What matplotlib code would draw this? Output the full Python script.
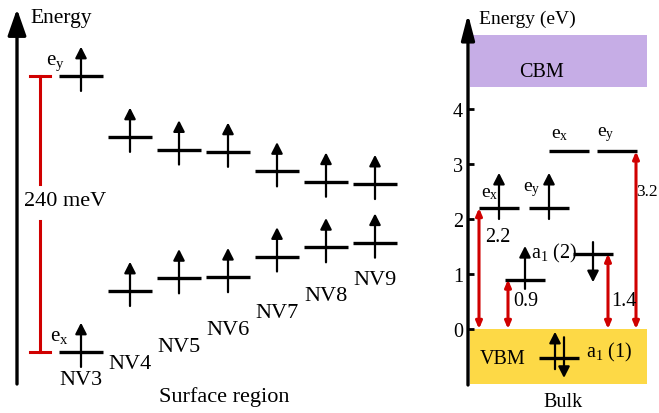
import matplotlib
matplotlib.use('Agg')
import matplotlib.pyplot as plt

plt.rcParams['font.family'] = ['Liberation Serif', 'DejaVu Serif']
plt.rcParams['mathtext.fontset'] = 'custom'
plt.rcParams['mathtext.rm'] = 'Liberation Serif'
plt.rcParams['mathtext.it'] = 'Liberation Serif:italic'

# surface region: NV3 ... NV9, level energies in meV (relative to NV3 e_x)
nv_names = ['NV3', 'NV4', 'NV5', 'NV6', 'NV7', 'NV8', 'NV9']
ex_mev = [0, 53, 64, 65, 83, 91, 95]
ey_mev = [240, 187, 176, 174, 157, 148, 146]
split_label = '240 meV'

# bulk levels in eV (relative to VBM)
bulk_x = [31, 81, 101, 149, 57, 125, 91]
bulk_e = [2.2, 2.2, 3.23, 3.23, 0.9, 1.37, -0.53]
trans_x = [11, 40, 140, 168]
trans_e = [2.2, 0.9, 1.37, 3.23]
trans_lbl = ['2.2', '0.9', '1.4', '3.2']
cbm = (4.4, 5.35)
vbm = (-1.0, 0.0)
ticks = [0, 1, 2, 3, 4]

W, H = 659, 414
fig = plt.figure(figsize=(W / 100, H / 100), dpi=100)

red = '#d00000'
blk = 'black'
up_style = '-|>,head_length=0.55,head_width=0.28'


def arrow(ax, x, y0, y1, lw=1.6, ms=12, style=up_style, color=blk):
    ax.annotate('', xy=(x, y1), xytext=(x, y0),
                arrowprops=dict(arrowstyle=style, color=color, lw=lw,
                                shrinkA=0, shrinkB=0, mutation_scale=ms),
                annotation_clip=False)


# ---------------- left panel ----------------
axl = fig.add_axes([0, 0, 420 / W, 1])
axl.set_xlim((0 - 81) / 49, (420 - 81) / 49)
k = 240 / 276
axl.set_ylim((353 - 414) * k, 353 * k)
axl.axis('off')

# energy axis
arrow(axl, (17 - 81) / 49, (353 - 385) * k, (353 - 10) * k, lw=2.4, ms=20,
      style='-|>,head_length=0.8,head_width=0.28')
axl.text((30 - 81) / 49, (353 - 19) * k, 'Energy', fontsize=15.5, ha='left', va='center')

hw = 0.45
for i, name in enumerate(nv_names):
    for e in (ex_mev[i], ey_mev[i]):
        axl.plot([i - hw, i + hw], [e, e], color=blk, lw=2.4, solid_capstyle='butt')
        arrow(axl, i, e - 13, e + 25.5)
    axl.text(i, -24.3 + 14.6 * i, name, fontsize=16, ha='center', va='center')

axl.text(-0.53, 252, r'$\mathrm{e_y}$', fontsize=15, ha='center', va='center')
axl.text(-0.45, 14, r'$\mathrm{e_x}$', fontsize=15, ha='center', va='center')

# 240 meV bracket
bx = (40 - 81) / 49
axl.plot([bx, bx], [ey_mev[0], (353 - 185) * k], color=red, lw=2.2)
axl.plot([bx, bx], [(353 - 222) * k, ex_mev[0]], color=red, lw=2.2)
for e in (ex_mev[0], ey_mev[0]):
    axl.plot([bx - 0.21, bx + 0.2], [e, e], color=red, lw=2.2)
axl.text((65 - 81) / 49, (353 - 201) * k, split_label, fontsize=16, ha='center', va='center')
axl.text((224 - 81) / 49, (353 - 397) * k, 'Surface region', fontsize=16, ha='center', va='center')

# ---------------- right panel ----------------
x0, ybot, ytop = 468, 386, 15
axr = fig.add_axes([x0 / W, (H - ybot) / H, 180 / W, (ybot - ytop) / H])
axr.set_xlim(0, 180)
axr.set_ylim((330 - ybot) / 55, (330 - ytop) / 55)
for s in axr.spines.values():
    s.set_visible(False)
axr.set_xticks([])
axr.set_yticks(ticks)
axr.set_yticklabels([str(t) for t in ticks])
axr.tick_params(axis='y', direction='in', length=4.5, width=2, labelsize=14.5, pad=3.5)
axr.patch.set_alpha(0)

axr.fill_between([2, 179], cbm[0], cbm[1], color='#c6ade6', lw=0)
axr.fill_between([2, 179], vbm[0], vbm[1], color='#fdd946', lw=0)
axr.text(74, 4.69, 'CBM', fontsize=14.5, ha='center', va='center')
axr.text(35, -0.53, 'VBM', fontsize=14.5, ha='center', va='center')

arrow(axr, 0, (330 - ybot) / 55, (330 - ytop) / 55, lw=2.4, ms=18,
      style='-|>,head_length=0.85,head_width=0.22')
axr.text(11, 5.64, 'Energy (eV)', fontsize=14, ha='left', va='center')
axr.text(95, -1.31, 'Bulk', fontsize=14.5, ha='center', va='center')

for x, e in zip(bulk_x, bulk_e):
    axr.plot([x - 20, x + 20], [e, e], color=blk, lw=2.4, solid_capstyle='butt')

# spins
arrow(axr, 31, 2.0, 2.84)
arrow(axr, 81, 2.0, 2.84)
arrow(axr, 57, 0.73, 1.51)
arrow(axr, 125, 1.58, 0.85)
arrow(axr, 87, -0.73, -0.05)
arrow(axr, 96, -0.15, -0.89)

# transitions
for x, e in zip(trans_x, trans_e):
    arrow(axr, x, 0, e, lw=2.2, ms=6, color=red,
          style='<|-|>,head_length=0.7,head_width=0.3')
axr.text(17, 1.69, trans_lbl[0], fontsize=14.5, ha='left', va='center')
axr.text(45, 0.51, trans_lbl[1], fontsize=14.5, ha='left', va='center')
axr.text(143, 0.51, trans_lbl[2], fontsize=14.5, ha='left', va='center')
axr.text(168.5, 2.51, trans_lbl[3], fontsize=12.5, ha='left', va='center')

axr.text(22, 2.49, r'$\mathrm{e_x}$', fontsize=14, ha='center', va='center')
axr.text(64, 2.55, r'$\mathrm{e_y}$', fontsize=14, ha='center', va='center')
axr.text(92, 3.55, r'$\mathrm{e_x}$', fontsize=14, ha='center', va='center')
axr.text(138, 3.55, r'$\mathrm{e_y}$', fontsize=14, ha='center', va='center')
axr.text(63, 1.4, r'$\mathrm{a_1}$ (2)', fontsize=14.5, ha='left', va='center')
axr.text(118, -0.4, r'$\mathrm{a_1}$ (1)', fontsize=14.5, ha='left', va='center')

fig.savefig('out.png', dpi=100)
